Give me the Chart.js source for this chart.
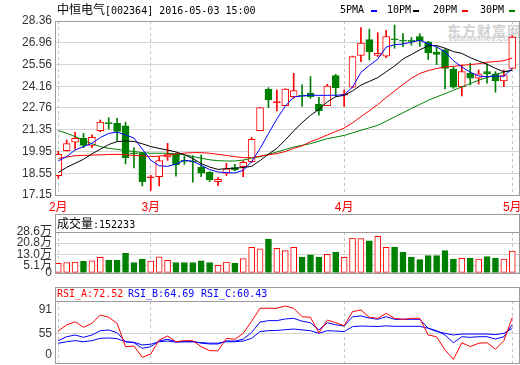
<!DOCTYPE html>
<html><head><meta charset="utf-8">
<script src="https://cdn.jsdelivr.net/npm/chart.js@4/dist/chart.umd.min.js"></script>
<style>
html,body{margin:0;padding:0;background:#fff;}
#wrap{position:relative;width:520px;height:365px;overflow:hidden;background:#fff;}
#wrap canvas{position:absolute;left:0;}
.t{position:absolute;white-space:nowrap;line-height:14px;height:14px;color:#000;}
.m{font-family:"DejaVu Sans Mono",monospace;font-size:10px;}
.k{font-family:"Noto Sans CJK SC",sans-serif;font-size:12px;}
.d{position:absolute;height:2px;width:6px;top:10px;}
</style></head><body>
<div id="wrap">
<div class="t" style="left:447px;top:20px;font:bold 14px 'Noto Sans CJK SC',sans-serif;color:#d2d2d2;letter-spacing:1px">东方财富网</div>
<div class="t" style="left:449px;top:33px;font:italic bold 9px 'Liberation Sans',sans-serif;color:#d2d2d2">eastmoney.com</div>
<canvas id="cMain" width="520" height="214" style="top:0"></canvas>
<canvas id="cVol" width="520" height="72" style="top:212px"></canvas>
<canvas id="cRsi" width="520" height="81" style="top:284px"></canvas>
<div class="t" style="left:57px;top:2px"><span class="k">中恒电气</span><span class="m">[002364] 2016-05-03 15:00</span></div>
<div class="t m" style="left:340px;top:3px">5PMA</div><div class="d" style="left:371px;background:#0000ff"></div>
<div class="t m" style="left:387px;top:3px">10PM</div><div class="d" style="left:413px;background:#000"></div>
<div class="t m" style="left:433px;top:3px">20PM</div><div class="d" style="left:462px;background:#ff0000"></div>
<div class="t m" style="left:480px;top:3px">30PM</div><div class="d" style="left:509px;background:#008000"></div>
<div class="t" id="volHead" style="left:57px;top:216px"></div>
<div class="t m" id="rsiHeadA" style="left:57px;top:287px;color:#ff0000"></div>
<div class="t m" id="rsiHeadB" style="left:128px;top:287px;color:#0000ff"></div>
<div class="t m" id="rsiHeadC" style="left:201px;top:287px;color:#0000ff"></div>
</div>
<script>
// ---------- data ----------
const days = ['2016-02-15','2016-02-16','2016-02-17','2016-02-18','2016-02-19','2016-02-22','2016-02-23','2016-02-24','2016-02-25','2016-02-26','2016-02-29',
 '2016-03-01','2016-03-02','2016-03-03','2016-03-04','2016-03-07','2016-03-08','2016-03-09','2016-03-10','2016-03-11','2016-03-14','2016-03-15','2016-03-16','2016-03-17','2016-03-18','2016-03-21','2016-03-22','2016-03-23','2016-03-24','2016-03-25','2016-03-28','2016-03-29','2016-03-30','2016-03-31',
 '2016-04-01','2016-04-05','2016-04-06','2016-04-07','2016-04-08','2016-04-11','2016-04-12','2016-04-13','2016-04-14','2016-04-15','2016-04-18','2016-04-19','2016-04-20','2016-04-21','2016-04-22','2016-04-25','2016-04-26','2016-04-27','2016-04-28','2016-04-29',
 '2016-05-03'];
const openP  = [18.40,20.01,20.55,20.80,20.35,21.30,21.78,21.77,21.60,19.85,19.84,18.25,18.33,19.60,19.77,19.35,19.32,18.93,18.61,18.01,18.55,18.92,18.98,19.30,21.30,23.96,23.10,22.91,23.49,23.55,23.72,23.01,22.91,24.84,23.58,24.09,26.15,27.16,26.15,26.09,27.16,27.08,27.07,27.36,27.02,26.36,26.50,25.27,24.13,24.99,24.67,25.10,24.95,24.50,25.31];
const closeP = [19.77,20.46,20.80,20.35,20.87,21.85,21.75,21.25,19.56,19.80,18.01,18.28,19.36,19.75,19.08,19.32,19.28,18.55,18.12,18.16,18.83,18.76,19.26,20.74,22.78,23.27,23.12,23.98,23.88,23.52,23.49,22.56,24.17,24.07,23.64,26.07,26.94,26.36,26.28,27.36,27.14,27.06,27.05,27.07,26.30,26.20,25.31,24.09,25.10,24.67,24.95,24.95,24.50,24.84,27.32];
const highP  = [19.98,20.69,21.19,21.12,21.02,21.98,22.14,22.09,21.84,20.20,19.88,18.42,19.62,20.48,19.82,19.65,19.69,19.73,18.66,18.27,19.19,19.13,19.37,20.85,22.78,24.07,23.92,24.00,24.99,24.24,24.78,23.44,24.28,24.93,23.91,26.10,27.94,27.83,27.61,27.76,28.10,27.55,27.30,27.55,27.04,26.70,26.55,25.42,25.53,25.64,25.20,25.60,25.10,25.20,27.40];
const lowP   = [18.23,19.98,20.10,20.20,20.20,21.23,21.40,20.63,19.15,18.90,17.73,17.44,17.73,19.38,18.37,19.12,17.97,18.33,18.01,17.75,18.40,18.70,18.33,19.25,21.30,22.78,22.56,22.90,23.38,22.85,23.38,22.30,22.91,23.49,22.85,24.05,25.74,25.85,26.07,26.00,26.60,26.70,26.80,26.72,25.88,25.55,23.98,24.02,23.53,24.24,24.30,24.35,23.77,24.13,25.31];
const volume = [6.6,7.2,7.6,8.0,8.4,10.8,9.0,9.0,13.8,7.2,9.6,8.2,11.2,8.8,7.2,7.2,7.2,8.4,7.2,5.2,7.6,6.6,10.0,17.8,16.8,23.6,17.2,15.6,17.8,11.0,12.6,11.0,13.0,14.4,10.8,24.4,24.0,22.4,25.6,17.8,18.0,14.4,11.0,9.2,12.0,12.0,15.6,9.6,10.2,10.2,9.6,11.4,10.4,9.6,15.2]; // 万股
const latestVolume = 152233;
const ma5  = [19.35,19.62,20.05,20.27,20.48,20.85,21.12,21.20,21.02,20.82,20.10,19.40,19.03,19.00,19.13,19.39,19.32,19.06,18.79,18.63,18.59,18.57,18.74,19.30,20.14,21.11,22.05,22.87,23.46,23.53,23.58,23.57,23.57,23.58,23.60,24.10,25.05,25.50,25.90,26.68,26.83,26.88,26.99,27.12,26.90,26.70,26.37,25.80,25.40,25.06,24.82,24.76,24.82,24.79,25.31];
const ma10 = [18.60,18.93,19.19,19.45,19.80,20.10,20.40,20.59,20.63,20.60,20.45,20.27,20.15,20.05,19.92,19.75,19.50,19.17,18.95,18.80,18.85,18.88,18.92,19.00,19.37,19.78,20.16,20.70,21.28,21.81,22.28,22.66,23.15,23.48,23.57,23.85,24.23,24.47,24.71,25.09,25.46,25.91,26.20,26.50,26.76,26.78,26.61,26.39,26.27,26.00,25.78,25.57,25.31,25.09,25.19];
const ma20 = [19.50,19.60,19.68,19.70,19.72,19.74,19.76,19.77,19.75,19.70,19.67,19.63,19.65,19.72,19.80,19.85,19.88,19.88,19.84,19.77,19.70,19.62,19.56,19.55,19.65,19.74,19.82,19.95,20.15,20.32,20.58,20.79,21.02,21.24,21.46,21.80,22.20,22.58,22.98,23.43,23.85,24.27,24.67,24.98,25.16,25.30,25.40,25.44,25.50,25.55,25.61,25.70,25.75,25.80,25.98];
const ma30 = [21.30,21.13,20.91,20.69,20.45,20.27,20.16,20.09,20.01,19.95,19.88,19.84,19.84,19.84,19.80,19.74,19.63,19.52,19.42,19.36,19.34,19.34,19.40,19.52,19.62,19.77,19.92,20.08,20.24,20.35,20.46,20.62,20.78,20.88,20.99,21.15,21.32,21.48,21.64,21.90,22.18,22.45,22.72,22.98,23.25,23.47,23.68,23.90,24.11,24.33,24.54,24.72,24.91,25.07,25.18];
const rsiA = [57.9,64.3,67.9,61.7,66.1,75.4,72.8,66.1,40.1,40.8,28.2,31.9,47.5,52.0,45.6,46.8,46.8,40.1,35.6,35.6,49.4,48.3,55.0,68.5,83.0,82.9,82.9,85.4,82.9,73.5,72.8,55.5,69.8,66.8,63.5,79.1,81.0,72.8,71.7,77.3,71.7,70.6,71.7,71.7,53.1,51.2,36.4,26.0,44.5,40.1,43.9,44.5,37.2,46.8,72.52];
const rsiB = [46.8,51.2,53.1,50.5,53.1,57.9,58.7,55.7,45.6,44.5,38.3,40.1,46.5,48.3,45.6,46.0,46.0,44.0,43.1,43.1,46.5,46.3,48.5,56.0,67.5,69.1,69.1,71.0,71.7,68.5,66.8,58.7,66.8,64.5,63.1,73.5,74.3,72.0,70.6,73.5,70.6,70.6,70.6,70.6,60.6,58.0,53.1,44.5,51.2,50.5,51.2,51.2,48.6,51.2,64.69];
const rsiC = [43.9,45.6,46.8,45.6,46.8,49.4,49.8,49.0,45.6,45.0,42.0,42.8,45.6,46.4,45.2,45.4,45.4,44.6,44.0,44.0,45.6,45.6,46.4,49.4,57.0,57.9,58.2,59.0,59.8,58.8,57.9,55.0,57.9,57.5,57.0,62.4,63.1,62.8,62.6,63.3,62.8,62.8,62.8,62.8,60.6,57.0,55.0,53.1,54.2,54.2,54.2,54.2,53.5,55.0,60.43];
const priceTickLabels = ['17.15','18.55','19.95','21.35','22.76','24.16','25.56','26.96','28.36'];
const volTickValues = [0, 5.1, 13.0, 20.8, 28.6];
const volTickLabels = ['0','5.1万','13.0万','20.8万','28.6万'];
const rsiTickValues = [0, 55, 91];
const rsiTickLabels = ['0','55','91'];
const monthNames = ['2月','3月','4月','5月'];

// ---------- derived ----------
const monthIdx = days.reduce((acc, d, i) => { if (i === 0 || d.slice(5,7) !== days[i-1].slice(5,7)) acc.push(i); return acc; }, []);
const up = openP.map((o, i) => closeP[i] >= o);
const xy = arr => arr.map((v, i) => ({ x: i, y: v }));

// ---------- styles ----------
const RED = '#ff0000', GREEN = '#008000', BLUE = '#0000ff', BLACK = '#000000';
const GRID = '#d4d4d4', FRAME = '#9a9a9a', DASH = '#c4c4c4', LABEL = '#333333';
const FONT = "'Liberation Sans','Noto Sans CJK SC',sans-serif";
Chart.defaults.font.family = FONT;
Chart.defaults.font.size = 12;
Chart.defaults.color = LABEL;
const X_MIN = -0.27, X_MAX = 54.8;

function xAxis(showLabels) {
  return {
    type: 'linear', min: X_MIN, max: X_MAX, offset: false,
    afterBuildTicks(s) { s.ticks = monthIdx.map(v => ({ value: v })); },
    afterFit(s) { s.height = showLabels ? 19 : 0; s.paddingLeft = 0; s.paddingRight = 0; },
    grid: { color: DASH, drawTicks: false, offset: false },
    border: { display: false, dash: [3, 3] },
    ticks: { display: showLabels, autoSkip: false, maxRotation: 0, minRotation: 0, padding: 5, color: RED,
      callback: (v, i) => monthNames[i] }
  };
}
function framePlugin(frameTop, headerLine) {
  return { id: 'frame', afterDraw(chart) {
    const { ctx, chartArea: a } = chart;
    const l = Math.round(a.left) - 1, r = Math.round(a.right), b = Math.round(a.bottom);
    const t = frameTop == null ? Math.round(a.top) : frameTop;
    ctx.save(); ctx.strokeStyle = FRAME; ctx.lineWidth = 1;
    ctx.strokeRect(l + 0.5, t + 0.5, r - l, b - t);
    if (headerLine) { ctx.beginPath(); ctx.moveTo(l, Math.round(a.top) + 0.5); ctx.lineTo(r + 1, Math.round(a.top) + 0.5); ctx.stroke(); }
    ctx.restore();
  }};
}
const common = { responsive: false, animation: false, devicePixelRatio: 1, events: [],
  plugins: { legend: { display: false }, tooltip: { enabled: false } } };
const maLine = (arr, color) => ({ type: 'line', data: xy(arr), borderColor: color, borderWidth: 1, pointRadius: 0, tension: 0, order: 0 });

// ---------- price chart ----------
new Chart(document.getElementById('cMain'), {
  type: 'bar',
  data: { datasets: [
    maLine(ma5, BLUE), maLine(ma10, BLACK), maLine(ma20, RED), maLine(ma30, GREEN),
    { type: 'bar', order: 1, grouped: false, barThickness: 7, minBarLength: 1, borderWidth: 1, borderSkipped: false,
      data: openP.map((o, i) => ({ x: i, y: [o, closeP[i]] })),
      borderColor: c => up[c.dataIndex] ? RED : GREEN,
      backgroundColor: c => up[c.dataIndex] ? (Math.abs(closeP[c.dataIndex] - openP[c.dataIndex]) < 0.1 ? RED : '#ffffff') : GREEN },
    { type: 'bar', order: 2, grouped: false, barThickness: 1, borderWidth: 0,
      data: lowP.map((l, i) => ({ x: i, y: [l, highP[i]] })),
      backgroundColor: c => up[c.dataIndex] ? RED : GREEN }
  ]},
  options: Object.assign({}, common, {
    layout: { padding: { top: 21, right: 1, bottom: 0, left: 0 } },
    scales: {
      x: xAxis(true),
      y: { min: 17.15, max: 28.36,
        afterBuildTicks(s) { s.ticks = priceTickLabels.map(t => ({ value: parseFloat(t) })); },
        afterFit(s) { s.width = 56; },
        grid: { color: GRID, drawTicks: false }, border: { display: false },
        ticks: { padding: 4, autoSkip: false, color: LABEL, callback: (v, i) => priceTickLabels[i] } }
    }
  }),
  plugins: [framePlugin(null, false)]
});

// ---------- volume chart ----------
new Chart(document.getElementById('cVol'), {
  type: 'bar',
  data: { datasets: [
    { type: 'bar', grouped: false, barThickness: 6, borderWidth: 1, borderSkipped: false,
      data: xy(volume),
      borderColor: c => up[c.dataIndex] ? RED : GREEN,
      backgroundColor: c => up[c.dataIndex] ? '#ffffff' : GREEN }
  ]},
  options: Object.assign({}, common, {
    layout: { padding: { top: 20, right: 1, bottom: 4, left: 0 } },
    scales: {
      x: xAxis(false),
      y: { min: 0, max: 28.6,
        afterBuildTicks(s) { s.ticks = volTickValues.map(v => ({ value: v })); },
        afterFit(s) { s.width = 56; },
        grid: { color: GRID, drawTicks: false }, border: { display: false },
        ticks: { padding: 4, autoSkip: false, color: LABEL, callback: (v, i) => volTickLabels[i] } }
    }
  }),
  plugins: [framePlugin(2, true)]
});

// ---------- RSI chart ----------
new Chart(document.getElementById('cRsi'), {
  type: 'line',
  data: { datasets: [
    { data: xy(rsiA), borderColor: RED, borderWidth: 1, pointRadius: 0, tension: 0 },
    { data: xy(rsiB), borderColor: BLUE, borderWidth: 1, pointRadius: 0, tension: 0 },
    { data: xy(rsiC), borderColor: BLUE, borderWidth: 1, pointRadius: 0, tension: 0 }
  ]},
  options: Object.assign({}, common, {
    layout: { padding: { top: 17, right: 1, bottom: 2, left: 0 } },
    scales: {
      x: xAxis(false),
      y: { min: 21.9, max: 91,
        afterBuildTicks(s) { s.ticks = rsiTickValues.filter(v => v > s.min && v < s.max).map(v => ({ value: v })); },
        afterFit(s) { s.width = 56; },
        grid: { color: GRID, drawTicks: false }, border: { display: false },
        ticks: { display: false } }
    }
  }),
  plugins: [framePlugin(3, true), { id: 'rsiLabels', afterDraw(chart) {
    const s = chart.scales.y, ctx = chart.ctx;
    ctx.save(); ctx.font = '12px ' + FONT; ctx.fillStyle = LABEL; ctx.textAlign = 'right'; ctx.textBaseline = 'middle';
    rsiTickValues.forEach((v, i) => {
      const y = Math.min(Math.max(s.getPixelForValue(v), s.top + 9), s.bottom - 8);
      ctx.fillText(rsiTickLabels[i], s.right - 4, y);
    });
    ctx.restore();
  }}]
});

// ---------- headers ----------
document.getElementById('volHead').innerHTML = '<span class="k">成交量</span><span class="m">:' + latestVolume + '</span>';
document.getElementById('rsiHeadA').textContent = 'RSI_A:' + rsiA[rsiA.length - 1].toFixed(2);
document.getElementById('rsiHeadB').textContent = 'RSI_B:' + rsiB[rsiB.length - 1].toFixed(2);
document.getElementById('rsiHeadC').textContent = 'RSI_C:' + rsiC[rsiC.length - 1].toFixed(2);
</script>
</body></html>
